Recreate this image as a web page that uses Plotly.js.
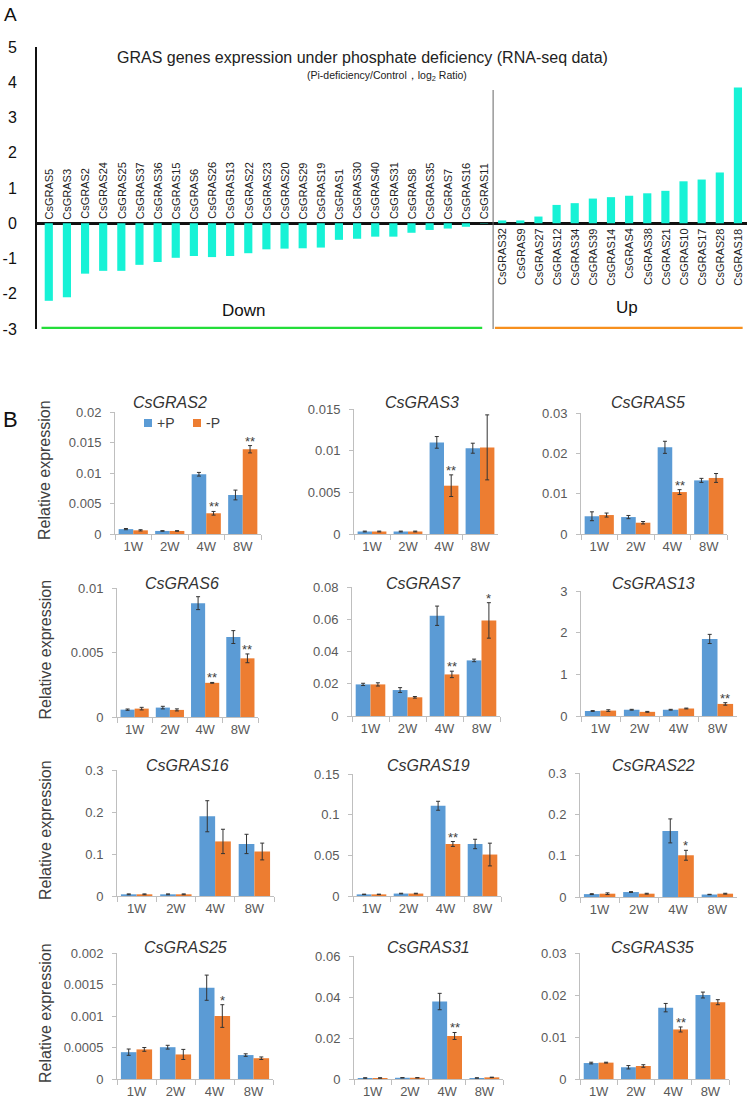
<!DOCTYPE html>
<html>
<head>
<meta charset="utf-8">
<script src="https://cdn.plot.ly/plotly-3.0.1.min.js"></script>
<style>html,body{margin:0;padding:0;background:#fff;}#chart{width:747px;height:1099px;}</style>
</head>
<body>
<div id="chart"></div>
<script>
// ---------- Panel A data ----------
const geneCats = ['CsGRAS5','CsGRAS3','CsGRAS2','CsGRAS24','CsGRAS25','CsGRAS37','CsGRAS36','CsGRAS15','CsGRAS6','CsGRAS26','CsGRAS13','CsGRAS22','CsGRAS23','CsGRAS20','CsGRAS29','CsGRAS19','CsGRAS1','CsGRAS30','CsGRAS40','CsGRAS31','CsGRAS8','CsGRAS35','CsGRAS7','CsGRAS16','CsGRAS11',
  'CsGRAS32','CsGRAS9','CsGRAS27','CsGRAS12','CsGRAS34','CsGRAS39','CsGRAS14','CsGRAS4','CsGRAS38','CsGRAS21','CsGRAS10','CsGRAS17','CsGRAS28','CsGRAS18'];
const log2Ratio = [-2.2,-2.1,-1.43,-1.35,-1.35,-1.18,-1.1,-0.98,-0.93,-0.96,-0.93,-0.85,-0.74,-0.72,-0.71,-0.69,-0.47,-0.44,-0.38,-0.38,-0.27,-0.19,-0.15,-0.1,-0.01,
  0.08,0.08,0.19,0.52,0.57,0.7,0.74,0.78,0.85,0.92,1.19,1.24,1.44,3.85];
const aTickVals = [-3,-2,-1,0,1,2,3,4,5];
const aTickText = ['-3','-2','-1','0','1','2','3','4','5'];

// ---------- Panel B data ----------
const weeks = ['1W','2W','4W','8W'];
const gras2Plus = [0.0008,0.0005,0.0098,0.0064],  gras2PlusErr = [0.0001,0.00005,0.0003,0.0008];
const gras2Minus = [0.0006,0.0005,0.0034,0.0139], gras2MinusErr = [0.0001,0.00005,0.0003,0.0006];
const gras2Sig = ['','','**','**'];
const gras3Plus = [0.0003,0.0003,0.011,0.0103],   gras3PlusErr = [0.00005,0.00005,0.0007,0.0006];
const gras3Minus = [0.0003,0.0003,0.0058,0.0104], gras3MinusErr = [0.00005,0.00005,0.0013,0.0039];
const gras3Sig = ['','','**',''];
const gras5Plus = [0.0044,0.0042,0.0215,0.0133],  gras5PlusErr = [0.0011,0.0004,0.0015,0.0005];
const gras5Minus = [0.0047,0.0028,0.0104,0.0139], gras5MinusErr = [0.0005,0.0003,0.0006,0.0011];
const gras5Sig = ['','','**',''];
const gras6Plus = [0.00057,0.00073,0.00883,0.0062], gras6PlusErr = [0.00005,0.0001,0.0005,0.0005];
const gras6Minus = [0.00065,0.00055,0.00265,0.00455], gras6MinusErr = [0.0001,0.00008,0.00003,0.00034];
const gras6Sig = ['','','**','**'];
const gras7Plus = [0.0196,0.0161,0.0622,0.0345],  gras7PlusErr = [0.0007,0.0015,0.006,0.0008];
const gras7Minus = [0.0196,0.0116,0.0258,0.0593], gras7MinusErr = [0.001,0.0005,0.002,0.011];
const gras7Sig = ['','','**','*'];
const gras13Plus = [0.12,0.15,0.15,1.85],  gras13PlusErr = [0.01,0.01,0.01,0.11];
const gras13Minus = [0.13,0.1,0.18,0.29], gras13MinusErr = [0.02,0.01,0.01,0.03];
const gras13Sig = ['','','','**'];
const gras16Plus = [0.004,0.004,0.19,0.124], gras16PlusErr = [0.001,0.001,0.037,0.023];
const gras16Minus = [0.004,0.004,0.13,0.106], gras16MinusErr = [0.001,0.001,0.029,0.02];
const gras16Sig = ['','','',''];
const gras19Plus = [0.002,0.003,0.111,0.064], gras19PlusErr = [0.0003,0.0004,0.0055,0.0058];
const gras19Minus = [0.002,0.003,0.064,0.051], gras19MinusErr = [0.0003,0.0004,0.003,0.014];
const gras19Sig = ['','','**',''];
const gras22Plus = [0.007,0.012,0.16,0.006], gras22PlusErr = [0.001,0.001,0.029,0.0005];
const gras22Minus = [0.008,0.008,0.101,0.008], gras22MinusErr = [0.002,0.001,0.012,0.001];
const gras22Sig = ['','','*',''];
const gras25Plus = [0.000426,0.000505,0.00145,0.00038], gras25PlusErr = [0.00005,0.00003,0.0002,0.00002];
const gras25Minus = [0.00047,0.00039,0.001,0.00033], gras25MinusErr = [0.00003,0.00008,0.00018,0.00002];
const gras25Sig = ['','','*',''];
const gras31Plus = [0.0005,0.0006,0.0378,0.0005], gras31PlusErr = [0.0001,0.0001,0.004,0.0001];
const gras31Minus = [0.0005,0.0006,0.021,0.0008], gras31MinusErr = [0.0001,0.0001,0.0017,0.0001];
const gras31Sig = ['','','**',''];
const gras35Plus = [0.0038,0.0028,0.017,0.02],   gras35PlusErr = [0.0002,0.0004,0.001,0.0007];
const gras35Minus = [0.0039,0.0031,0.0118,0.0183], gras35MinusErr = [0.0001,0.0003,0.0006,0.0006];
const gras35Sig = ['','','**',''];

// ---------- layout helpers ----------
const W = 747, H = 1099;
const fx = p => p / W;
const fy = p => 1 - p / H;
const FONT = 'Arial, "Liberation Sans", sans-serif';
const BLUE = '#5B9BD5', ORANGE = '#ED7D31', TURQ = '#17F2D6';

const panels = [
  {title:'CsGRAS2',  plus:gras2Plus,  plusErr:gras2PlusErr,  minus:gras2Minus,  minusErr:gras2MinusErr,  sig:gras2Sig,  ymax:0.02,  dtick:0.005,  xpx:[115,261], ypx:[412,534], tpx:[170,403]},
  {title:'CsGRAS3',  plus:gras3Plus,  plusErr:gras3PlusErr,  minus:gras3Minus,  minusErr:gras3MinusErr,  sig:gras3Sig,  ymax:0.015, dtick:0.005,  xpx:[354,498], ypx:[409,534], tpx:[422,403]},
  {title:'CsGRAS5',  plus:gras5Plus,  plusErr:gras5PlusErr,  minus:gras5Minus,  minusErr:gras5MinusErr,  sig:gras5Sig,  ymax:0.03,  dtick:0.01,   xpx:[581,727], ypx:[413,534], tpx:[648,403]},
  {title:'CsGRAS6',  plus:gras6Plus,  plusErr:gras6PlusErr,  minus:gras6Minus,  minusErr:gras6MinusErr,  sig:gras6Sig,  ymax:0.01,  dtick:0.005,  xpx:[117,258], ypx:[588,717], tpx:[182,583]},
  {title:'CsGRAS7',  plus:gras7Plus,  plusErr:gras7PlusErr,  minus:gras7Minus,  minusErr:gras7MinusErr,  sig:gras7Sig,  ymax:0.08,  dtick:0.02,   xpx:[352,500], ypx:[587,716], tpx:[423,583]},
  {title:'CsGRAS13', plus:gras13Plus, plusErr:gras13PlusErr, minus:gras13Minus, minusErr:gras13MinusErr, sig:gras13Sig, ymax:3,     dtick:1,      xpx:[581,737], ypx:[591,716], tpx:[653,583]},
  {title:'CsGRAS16', plus:gras16Plus, plusErr:gras16PlusErr, minus:gras16Minus, minusErr:gras16MinusErr, sig:gras16Sig, ymax:0.3,   dtick:0.1,    xpx:[117,274], ypx:[770,896], tpx:[187,765]},
  {title:'CsGRAS19', plus:gras19Plus, plusErr:gras19PlusErr, minus:gras19Minus, minusErr:gras19MinusErr, sig:gras19Sig, ymax:0.15,  dtick:0.05,   xpx:[353,501], ypx:[774,896], tpx:[428,765]},
  {title:'CsGRAS22', plus:gras22Plus, plusErr:gras22PlusErr, minus:gras22Minus, minusErr:gras22MinusErr, sig:gras22Sig, ymax:0.3,   dtick:0.1,    xpx:[580,737], ypx:[773,897], tpx:[653,765]},
  {title:'CsGRAS25', plus:gras25Plus, plusErr:gras25PlusErr, minus:gras25Minus, minusErr:gras25MinusErr, sig:gras25Sig, ymax:0.002, dtick:0.0005, xpx:[117,273], ypx:[953,1079], tpx:[185,947]},
  {title:'CsGRAS31', plus:gras31Plus, plusErr:gras31PlusErr, minus:gras31Minus, minusErr:gras31MinusErr, sig:gras31Sig, ymax:0.06,  dtick:0.02,   xpx:[354,503], ypx:[956,1079], tpx:[428,947]},
  {title:'CsGRAS35', plus:gras35Plus, plusErr:gras35PlusErr, minus:gras35Minus, minusErr:gras35MinusErr, sig:gras35Sig, ymax:0.03,  dtick:0.01,   xpx:[580,729], ypx:[953,1079], tpx:[652,947]}
];

const data = [];
const annotations = [];
const shapes = [];
const layout = {
  width: W, height: H,
  margin: {l:0, r:0, t:0, b:0},
  paper_bgcolor: '#fff', plot_bgcolor: 'rgba(0,0,0,0)',
  showlegend: false,
  barmode: 'group', bargap: 0.2, bargroupgap: 0,
  font: {family: FONT, color: '#404040'},
  annotations, shapes
};
// paper-referenced text helper with explicit anchors
function paperText(xp, yp, text, font, extra) {
  annotations.push(Object.assign({xref:'paper', yref:'paper', x:fx(xp), y:fy(yp), text, showarrow:false,
    xanchor:'center', yanchor:'middle', font}, extra || {}));
}

// ---------- Panel A ----------
const aTop = 47, aBot = 329;
data.push({
  type:'bar', x: geneCats, y: log2Ratio, xaxis:'x', yaxis:'y',
  marker:{color:TURQ}, width:0.45, hoverinfo:'x+y'
});
layout.xaxis = {domain:[fx(37), fx(747)], anchor:'y', type:'category', range:[-0.65, 38.5],
  showticklabels:false, ticks:'', showline:false, showgrid:false, zeroline:false, fixedrange:true};
layout.yaxis = {domain:[fy(aBot), fy(aTop)], anchor:'x', range:[-3,5], tickmode:'array',
  tickvals:aTickVals, ticktext:aTickText, ticks:'', ticklabelstandoff:15,
  tickfont:{size:16, color:'#111', family:FONT},
  showline:true, linecolor:'#111', linewidth:2, showgrid:false,
  zeroline:true, zerolinecolor:'#111', zerolinewidth:2.5, fixedrange:true};

geneCats.forEach((g, i) => {
  const v = log2Ratio[i];
  annotations.push({xref:'x', yref:'y', x:g, y:0, text:g, showarrow:false, textangle:-90,
    yanchor: v < 0 ? 'bottom' : 'top', yshift: v < 0 ? 2 : -3, xanchor:'center',
    font:{size:11, color:'#222', family:FONT}});
});
const nDown = log2Ratio.filter(v => v < 0).length;
shapes.push({type:'line', xref:'x', yref:'y', x0:-0.4, x1:nDown - 1.1, y0:-3, y1:-3, line:{color:'#24DD3A', width:4.5}});
shapes.push({type:'line', xref:'x', yref:'y', x0:nDown - 0.4, x1:geneCats.length - 0.74, y0:-3, y1:-3, line:{color:'#F7901E', width:4.5}});
shapes.push({type:'line', xref:'x', yref:'y', x0:nDown - 0.5, x1:nDown - 0.5, y0:-3, y1:3.78, line:{color:'#666', width:1}});
paperText(243, 310, 'Down', {size:17, color:'#111', family:FONT});
paperText(627, 308, 'Up', {size:17, color:'#111', family:FONT});
paperText(362, 57, 'GRAS genes expression under phosphate deficiency (RNA-seq data)', {size:16, color:'#222', family:FONT});
paperText(387, 76, '(Pi-deficiency/Control，log<sub>2</sub> Ratio)', {size:10.5, color:'#222', family:FONT});
paperText(2, 2, 'A', {size:19, color:'#111', family:FONT}, {xanchor:'left', yanchor:'top'});
paperText(1, 405, 'B', {size:22, color:'#111', family:FONT}, {xanchor:'left', yanchor:'top'});

// ---------- Panel B ----------
panels.forEach((p, k) => {
  const n = k + 2;
  const xa = 'x' + n, ya = 'y' + n;
  data.push({type:'bar', name:'+P', x:weeks, y:p.plus, xaxis:xa, yaxis:ya, marker:{color:BLUE},
    error_y:{type:'data', array:p.plusErr, visible:true, color:'#333', thickness:1, width:2}});
  data.push({type:'bar', name:'-P', x:weeks, y:p.minus, xaxis:xa, yaxis:ya, marker:{color:ORANGE},
    error_y:{type:'data', array:p.minusErr, visible:true, color:'#333', thickness:1, width:2}});
  layout['xaxis' + n] = {domain:[fx(p.xpx[0]), fx(p.xpx[1])], anchor:ya, type:'category', range:[-0.5, 3.5],
    tickson:'boundaries', ticks:'outside', ticklen:5, tickcolor:'#BFBFBF', showline:true, linecolor:'#BFBFBF',
    linewidth:1, showgrid:false, zeroline:false, tickfont:{size:13, color:'#595959', family:FONT}, fixedrange:true};
  layout['yaxis' + n] = {domain:[fy(p.ypx[1]), fy(p.ypx[0])], anchor:xa, range:[0, p.ymax * 1.0005],
    tickmode:'linear', tick0:0, dtick:p.dtick, ticks:'outside', ticklen:4, tickcolor:'#BFBFBF',
    ticklabelstandoff:6, showline:true, linecolor:'#BFBFBF', linewidth:1, showgrid:false, zeroline:false,
    tickfont:{size:13, color:'#595959', family:FONT}, fixedrange:true};
  paperText(p.tpx[0], p.tpx[1], '<i>' + p.title + '</i>', {size:16, color:'#333', family:FONT});
  const catPx = (p.xpx[1] - p.xpx[0]) / weeks.length;
  p.sig.forEach((s, i) => {
    if (!s) return;
    annotations.push({xref:xa, yref:ya, x:weeks[i], y:p.minus[i] + p.minusErr[i], text:s, showarrow:false,
      xanchor:'center', yanchor:'bottom', xshift:catPx * 0.2, yshift:-5, font:{size:13, color:'#404040', family:FONT}});
  });
  if (k % 3 === 0) {
    paperText(45, (p.ypx[0] + p.ypx[1]) / 2 - 3, 'Relative expression', {size:16, color:'#404040', family:FONT}, {textangle:-90});
  }
});

// custom legend in first panel
shapes.push({type:'rect', xref:'paper', yref:'paper', x0:fx(144), x1:fx(152), y0:fy(427), y1:fy(419), fillcolor:BLUE, line:{width:0}});
shapes.push({type:'rect', xref:'paper', yref:'paper', x0:fx(193), x1:fx(201), y0:fy(427), y1:fy(419), fillcolor:ORANGE, line:{width:0}});
paperText(155, 423, '+P', {size:14, color:'#404040', family:FONT}, {xanchor:'left'});
paperText(204, 423, '-P', {size:14, color:'#404040', family:FONT}, {xanchor:'left'});

Plotly.newPlot('chart', data, layout, {displayModeBar:false, staticPlot:true});
</script>
</body>
</html>
